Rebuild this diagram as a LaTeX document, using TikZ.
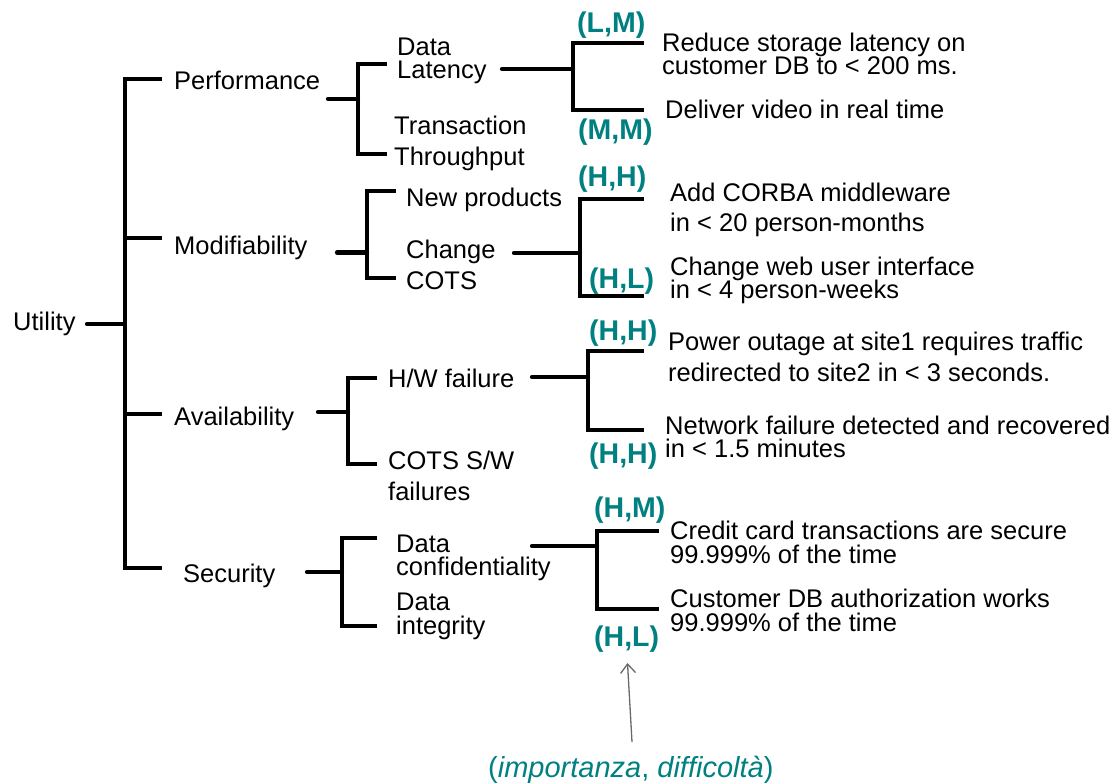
\documentclass[tikz,border=0pt]{standalone}
\usepackage{fontspec}
\setmainfont{Liberation Sans}
\usetikzlibrary{arrows.meta}
\definecolor{tealc}{RGB}{0,128,128}
\definecolor{arrgray}{RGB}{105,105,105}
\newcommand\mltwo[3]{\vtop{\baselineskip=#1pt\lineskiplimit=-30pt\hbox{#2}\hbox{#3}}}
\tikzset{
  txt/.style={inner sep=0pt, anchor=base west, font=\fontsize{25.5}{25.5}\selectfont},
  lab/.style={inner sep=0pt, anchor=base west, text=tealc, font=\fontsize{28.5}{28.5}\selectfont\bfseries},
  bk/.style={line width=4pt, line join=miter},
  stub/.style={line width=4.2pt, line cap=round},
  pointer/.style={draw=arrgray, line width=1.3pt, -{Straight Barb[length=9pt,width=15pt,line width=1.3pt]}}
}
\begin{document}
\begin{tikzpicture}[x=1pt,y=-1pt]
\useasboundingbox (0,0) rectangle (1115,783);

% ---- level 0/1 texts
\node[txt] (utility) at (13,330) {Utility};
\node[txt] (perf)  at (174,90)  {Performance};
\node[txt] (modif) at (174,255) {Modifiability};
\node[txt] (avail) at (174,425) {Availability};
\node[txt] (secur) at (183,582) {Security};

% ---- level 2 texts
\node[txt] (datalat)  at (397,56)  {\mltwo{23}{Data}{Latency}};
\node[txt] (trans)    at (394,135) {\mltwo{31}{Transaction}{Throughput}};
\node[txt] (newprod)  at (406,207) {New products};
\node[txt] (chcots)   at (406,259) {\mltwo{31}{Change}{COTS}};
\node[txt] (hwfail)   at (388,387) {H/W failure};
\node[txt] (cotssw)   at (388,469) {\mltwo{31}{COTS S/W}{failures}};
\node[txt] (dataconf) at (396,552) {\mltwo{23}{Data}{confidentiality}};
\node[txt] (dataint)  at (396,610) {\mltwo{24}{Data}{integrity}};

% ---- scenarios
\node[txt] (r1) at (662,52)  {\mltwo{23}{Reduce storage latency on}{customer DB to < 200 ms.}};
\node[txt] (r2) at (665,119) {Deliver video in real time};
\node[txt] (r3) at (670,202) {\mltwo{30}{Add CORBA middleware}{in < 20 person-months}};
\node[txt] (r4) at (670,276) {\mltwo{23}{Change web user interface}{in < 4 person-weeks}};
\node[txt] (r5) at (668,350) {\mltwo{31}{Power outage at site1 requires traffic}{redirected to site2 in < 3 seconds.}};
\node[txt] (r6) at (665,434) {\mltwo{23.5}{Network failure detected and recovered}{in < 1.5 minutes}};
\node[txt] (r7) at (670,539) {\mltwo{24}{Credit card transactions are secure}{99.999\% of the time}};
\node[txt] (r8) at (670,607) {\mltwo{24}{Customer DB authorization works}{99.999\% of the time}};

% ---- ratings
\node[lab] (l1) at (577,33)  {(L,M)};
\node[lab] (l2) at (578,140) {(M,M)};
\node[lab] (l3) at (578,187) {(H,H)};
\node[lab] (l4) at (589,288) {(H,L)};
\node[lab] (l5) at (589,340) {(H,H)};
\node[lab] (l6) at (589,463) {(H,H)};
\node[lab] (l7) at (594,517) {(H,M)};
\node[lab] (l8) at (594,646) {(H,L)};

\node[inner sep=0pt, anchor=base west, text=tealc, font=\fontsize{29}{29}\selectfont] (caption) at (488,777)
  {(\textit{importanza}, \textit{difficoltà})};

% ---- joints
\coordinate (uS) at (87,324);  \coordinate (uJ) at (124.5,324);
\coordinate (uT) at (124.5,79);  \coordinate (uB) at (124.5,568);
\coordinate (pS) at (328,99);  \coordinate (pJ) at (358,99);
\coordinate (mS) at (337,252.5); \coordinate (mJ) at (367,252.5);
\coordinate (aS) at (318,412); \coordinate (aJ) at (348,412);
\coordinate (sS) at (307,572); \coordinate (sJ) at (342,572);
\coordinate (dlS) at (502,69);  \coordinate (dlJ) at (573,69);
\coordinate (ccS) at (514,253); \coordinate (ccJ) at (580,253);
\coordinate (hwS) at (532,377); \coordinate (hwJ) at (588,377);
\coordinate (dcS) at (532,546); \coordinate (dcJ) at (597,546);

% ---- Utility bracket
\draw[stub] (uS) -- (uJ);
\draw[bk] (162,79) -- (uT) -- (uB) -- (162,568);
\draw[bk] (uJ |- 0,238) -- (162,238);
\draw[bk] (uJ |- 0,414) -- (162,414);

% ---- level 1 brackets
\draw[stub] (pS) -- (pJ);
\draw[bk] (387,64) -- (358,64) -- (358,154) -- (387,154);
\draw[stub] (mS) -- (mJ);
\draw[bk] (396,191) -- (367,191) -- (367,278) -- (396,278);
\draw[stub] (aS) -- (aJ);
\draw[bk] (377,378) -- (348,378) -- (348,464) -- (377,464);
\draw[stub] (sS) -- (sJ);
\draw[bk] (377,538) -- (342,538) -- (342,626) -- (377,626);

% ---- level 2 brackets
\draw[stub] (dlS) -- (dlJ);
\draw[bk] (644,43) -- (573,43) -- (573,110) -- (644,110);
\draw[stub] (ccS) -- (ccJ);
\draw[bk] (644,199) -- (580,199) -- (580,296) -- (644,296);
\draw[stub] (hwS) -- (hwJ);
\draw[bk] (644,351) -- (588,351) -- (588,430) -- (644,430);
\draw[stub] (dcS) -- (dcJ);
\draw[bk] (659,531) -- (597,531) -- (597,609) -- (659,609);

% ---- pointer
\coordinate (pt) at (627.5,663);
\draw[pointer] (632,742) -- (pt);
\end{tikzpicture}
\end{document}
